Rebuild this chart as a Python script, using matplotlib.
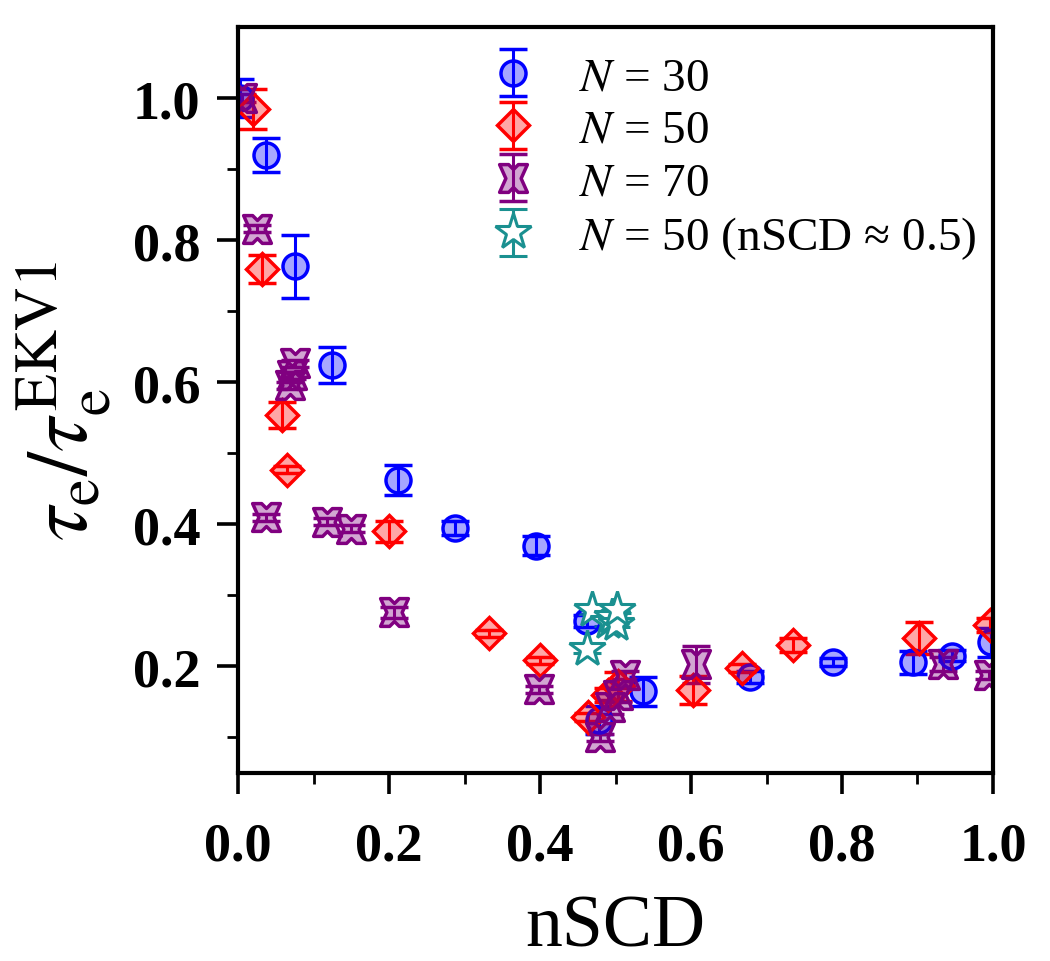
import matplotlib
matplotlib.use("Agg")
import matplotlib.pyplot as plt
from matplotlib.path import Path

plt.rcParams['font.family'] = ['Liberation Serif', 'DejaVu Serif']
plt.rcParams['mathtext.fontset'] = 'stix'

# N = 30
x30 = [0.003, 0.037, 0.075, 0.125, 0.212, 0.287, 0.395, 0.462, 0.478, 0.536,
       0.678, 0.788, 0.894, 0.946, 0.997]
y30 = [1.0, 0.92, 0.763, 0.624, 0.463, 0.395, 0.370, 0.264, 0.125, 0.165,
       0.185, 0.206, 0.206, 0.215, 0.234]
e30 = [0.027, 0.024, 0.044, 0.025, 0.021, 0.010, 0.013, 0.008, 0.020, 0.020,
       0.008, 0.006, 0.016, 0.008, 0.020]

# N = 50
x50 = [0.02, 0.032, 0.058, 0.065, 0.2, 0.333, 0.4, 0.463, 0.49, 0.503,
       0.603, 0.667, 0.735, 0.902, 0.996]
y50 = [0.985, 0.759, 0.554, 0.477, 0.390, 0.247, 0.209, 0.129, 0.160, 0.172,
       0.167, 0.198, 0.230, 0.240, 0.258]
e50 = [0.028, 0.020, 0.018, 0.005, 0.015, 0.005, 0.005, 0.006, 0.010, 0.020,
       0.020, 0.006, 0.010, 0.022, 0.010]

# N = 70
x70 = [0.005, 0.025, 0.075, 0.071, 0.069, 0.037, 0.118, 0.15, 0.207, 0.399,
       0.479, 0.493, 0.503, 0.513, 0.607, 0.934, 0.995]
y70 = [1.0, 0.816, 0.627, 0.61, 0.596, 0.41, 0.404, 0.394, 0.276, 0.168,
       0.100, 0.143, 0.160, 0.188, 0.203, 0.203, 0.188]
e70 = [0.005, 0.005, 0.005, 0.005, 0.005, 0.005, 0.005, 0.005, 0.008, 0.005,
       0.005, 0.010, 0.010, 0.005, 0.026, 0.010, 0.005]

# N = 50 (nSCD ~ 0.5)
xst = [0.469, 0.462, 0.49, 0.495, 0.5, 0.502]
yst = [0.279, 0.224, 0.262, 0.27, 0.26, 0.28]
est = [0.005, 0.005, 0.005, 0.005, 0.005, 0.005]

# notched square marker used for N = 70
verts = [(1, 1), (0.55, 0), (1, -1), (0.35, -1), (0, -0.65), (-0.35, -1),
         (-1, -1), (-0.55, 0), (-1, 1), (-0.35, 1), (0, 0.65), (0.35, 1), (1, 1)]
xmark = Path(verts, closed=True)

eb = dict(elinewidth=2.2, capsize=10, capthick=2.2)

fig = plt.figure(figsize=(10.5, 9.62), dpi=100)
ax = fig.add_axes([0.2267, 0.1954, 0.719, 0.7755])

h30 = ax.errorbar(x30, y30, yerr=e30, fmt='o', color='#0000ff', mfc=(0, 0, 1, 0.35),
                  mec='#0000ff', mew=2.5, ms=18, **eb)
h50 = ax.errorbar(x50, y50, yerr=e50, fmt='D', color='#ff0000', mfc=(1, 0, 0, 0.35),
                  mec='#ff0000', mew=2.5, ms=16, **eb)
h70 = ax.errorbar(x70, y70, yerr=e70, marker=xmark, ls='none', color='#800080',
                  mfc=(0.5, 0, 0.5, 0.35), mec='#800080', mew=2.5, ms=20, **eb)
hst = ax.errorbar(xst, yst, yerr=est, fmt='*', color='#1a9090', mfc='white',
                  mec='#1a9090', mew=2.2, ms=27, **eb)

ax.legend([h30, h50, h70, hst],
          ['$N$ = 30', '$N$ = 50', '$N$ = 70', '$N$ = 50 (nSCD ≈ 0.5)'],
          loc='upper right', frameon=False, fontsize=34,
          bbox_to_anchor=(1.022, 1.005), handlelength=1.0, handletextpad=0.9,
          labelspacing=0.2, borderaxespad=0.3)

ax.set_xlim(0, 1.0)
ax.set_ylim(0.05, 1.1)
ax.set_xticks([0.0, 0.2, 0.4, 0.6, 0.8, 1.0])
ax.set_xticks([0.1, 0.3, 0.5, 0.7, 0.9], minor=True)
ax.set_yticks([0.2, 0.4, 0.6, 0.8, 1.0])
ax.set_yticks([0.1, 0.3, 0.5, 0.7, 0.9], minor=True)
ax.set_xticklabels(['0.0', '0.2', '0.4', '0.6', '0.8', '1.0'], fontweight='bold')
ax.set_yticklabels(['0.2', '0.4', '0.6', '0.8', '1.0'], fontweight='bold')
ax.tick_params(which='major', direction='out', length=15, width=2.6,
               labelsize=39, pad=12)
ax.tick_params(axis='x', which='major', pad=20)
ax.tick_params(which='minor', direction='out', length=8, width=2)
for s in ax.spines.values():
    s.set_linewidth(3)

ax.set_xlabel('nSCD', fontsize=53, labelpad=16)
ax.set_ylabel(r'$\tau_{\rm e}/\tau_{\rm e}^{\rm EKV1}$', fontsize=62, labelpad=14)

fig.savefig('out.png', dpi=100)
